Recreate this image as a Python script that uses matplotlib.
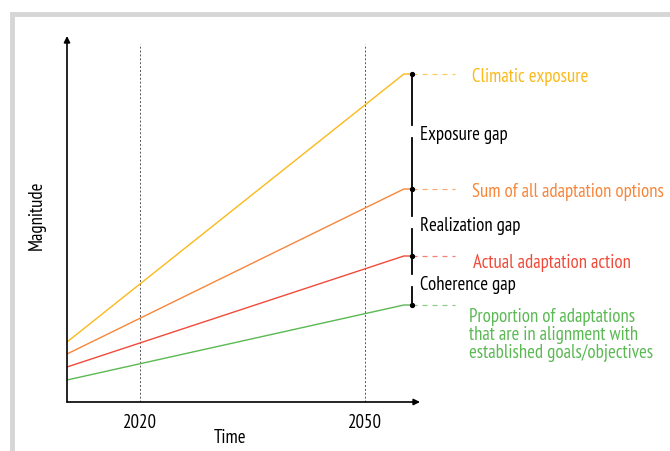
import matplotlib.pyplot as plt
from matplotlib.patches import Rectangle

plt.rcParams['font.family'] = ['PT Sans Narrow', 'DejaVu Sans']

# data: straight trend lines from start year to 2055, then flat to the gap bar
start_year = 2010.3
end_year = 2055.2
bar_year = 2056.3
series_names = ["Climatic exposure", "Sum of all adaptation options",
                "Actual adaptation action",
                "Proportion of adaptations\nthat are in alignment with\nestablished goals/objectives"]
start_vals = [60, 48, 35, 22]
end_vals = [328, 213, 146, 97]
colors = ["#fbb91a", "#f7863a", "#f04b3a", "#5ab953"]
gap_names = ["Exposure gap", "Realization gap", "Coherence gap"]
ref_years = [2020, 2050]

fig = plt.figure(figsize=(6.7, 4.52), dpi=100)
# light gray frame
fig.patches.append(Rectangle((12.5 / 670, -0.1), 1.2, (452 - 15) / 452 + 0.1,
                             transform=fig.transFigure, fill=False,
                             edgecolor="#d6d6d6", linewidth=3.5))

ax = fig.add_axes([67 / 670, 49 / 452, 353 / 670, 366 / 452])
ax.set_xlim(start_year, 2057.35)
ax.set_ylim(0, 366)
for s in ax.spines.values():
    s.set_visible(False)
ax.set_yticks([])
ax.set_xticks(ref_years)
ax.tick_params(axis="x", length=0, labelsize=13.5, pad=8)

# axis arrows
ax.annotate("", xy=(1, 0), xytext=(0, 0), xycoords="axes fraction",
            arrowprops=dict(arrowstyle="-|>", color="black", lw=1.2,
                            mutation_scale=9, shrinkA=0, shrinkB=0))
ax.annotate("", xy=(0, 1), xytext=(0, 0), xycoords="axes fraction",
            arrowprops=dict(arrowstyle="-|>", color="black", lw=1.2,
                            mutation_scale=9, shrinkA=0, shrinkB=0))

for yr in ref_years:
    ax.plot([yr, yr], [0, 358], color="#555555", lw=0.7, ls=(0, (2, 2)))

for s0, s1, c in zip(start_vals, end_vals, colors):
    ax.plot([start_year, end_year, bar_year], [s0, s1, s1], color=c, lw=1.0)
    ax.plot([bar_year, 2062], [s1, s1], color=c, lw=0.9, ls=(0, (4, 4)), alpha=0.7,
            clip_on=False)
    ax.plot(bar_year, s1, "o", color="black", ms=2.8, clip_on=False, zorder=5)

# gap bar with breaks at the labels
half = 6.5
for i, name in enumerate(gap_names):
    top, bot = end_vals[i], end_vals[i + 1]
    mid = (top + bot) / 2
    ax.plot([bar_year, bar_year], [top, mid + half], color="black", lw=1.3, clip_on=False)
    ax.plot([bar_year, bar_year], [mid - half, bot], color="black", lw=1.3, clip_on=False)
    ax.text(2057.35, mid - 3, name, fontsize=13.5, va="center", ha="left")

label_x = [2064.3, 2064.3, 2064.4, 2063.9]
label_dy = [-2, -2, -6, -29]
for name, v, c, lx, dy in zip(series_names, end_vals, colors, label_x, label_dy):
    ax.text(lx, v + dy, name, color=c, fontsize=13.5, va="center", ha="left",
            linespacing=1.0, clip_on=False)

fig.text(230 / 670, 1 - 438 / 452, "Time", fontsize=13.5, ha="center", va="center")
fig.text(37 / 670, 1 - 215 / 452, "Magnitude", rotation=90, fontsize=13.5,
         ha="center", va="center")

fig.savefig("out.png", dpi=100)
